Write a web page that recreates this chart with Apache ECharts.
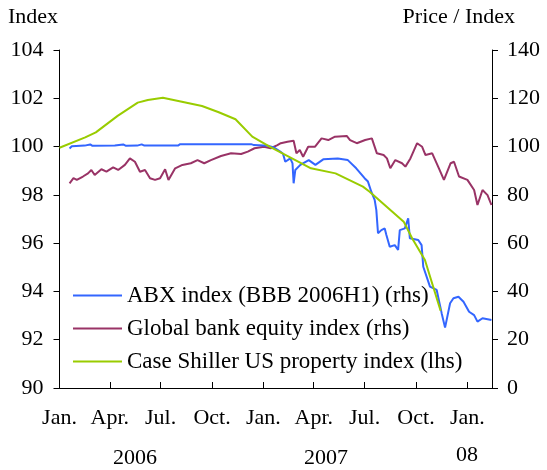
<!DOCTYPE html>
<html>
<head>
    <meta charset="utf-8">
    <title>ABX, bank equity and Case Shiller</title>
    <script src="https://cdn.jsdelivr.net/npm/echarts@6/dist/echarts.min.js"></script>
    <style>
        html, body { margin: 0; padding: 0; background: #fff; }
    </style>
</head>
<body>
<div id="main" style="width: 547px;height:470px;"></div>
<script type="text/javascript">
    // ABX index (BBB 2006H1), right axis
    var abxDates = ['2006-01-19', '2006-01-23', '2006-02-15', '2006-02-25', '2006-03-01', '2006-04-10',
        '2006-04-25', '2006-04-30', '2006-05-20', '2006-05-28', '2006-06-02', '2006-08-01', '2006-08-05',
        '2006-12-10', '2006-12-15', '2007-01-10', '2007-01-20', '2007-01-31', '2007-02-05', '2007-02-09',
        '2007-02-18', '2007-02-22', '2007-02-24', '2007-02-27', '2007-03-08', '2007-03-23', '2007-04-04',
        '2007-04-18', '2007-05-14', '2007-06-01', '2007-06-16', '2007-07-01', '2007-07-07', '2007-07-13',
        '2007-07-19', '2007-07-22', '2007-07-25', '2007-07-31', '2007-08-06', '2007-08-09', '2007-08-15',
        '2007-08-24', '2007-08-30', '2007-09-02', '2007-09-11', '2007-09-17', '2007-09-20', '2007-10-05',
        '2007-10-11', '2007-10-14', '2007-10-26', '2007-11-07', '2007-11-16', '2007-11-22', '2007-12-01',
        '2007-12-07', '2007-12-16', '2007-12-25', '2008-01-04', '2008-01-13', '2008-01-19', '2008-01-28',
        '2008-02-13'];
    var abxValues = [99.2, 100.1, 100.4, 100.9, 100.3, 100.4,
        100.9, 100.3, 100.4, 100.9, 100.4, 100.4, 101.0,
        101.0, 100.6, 100.3, 99.6, 97.9, 97.0, 93.7,
        95.1, 93.0, 84.8, 90.3, 92.4, 94.4, 92.4,
        94.7, 95.1, 94.4, 91.0, 86.9, 85.5, 81.3,
        77.9, 73.7, 64.1, 65.4, 66.1, 63.4, 58.5,
        59.2, 57.2, 65.4, 66.1, 70.3, 62.0, 61.3,
        59.2, 50.2, 42.0, 40.6, 30.9, 25.0, 35.1,
        37.2, 37.8, 35.7, 31.6, 30.2, 27.5, 28.9,
        28.2];

    // Global bank equity index, right axis
    var bankDates = ['2006-01-19', '2006-01-21', '2006-01-26', '2006-02-01', '2006-02-12', '2006-02-21',
        '2006-02-27', '2006-03-05', '2006-03-17', '2006-03-26', '2006-04-07', '2006-04-16', '2006-04-28',
        '2006-05-07', '2006-05-16', '2006-05-25', '2006-06-03', '2006-06-12', '2006-06-21', '2006-06-30',
        '2006-07-09', '2006-07-15', '2006-07-27', '2006-08-09', '2006-08-24', '2006-09-05', '2006-09-17',
        '2006-09-29', '2006-10-17', '2006-11-04', '2006-11-22', '2006-12-04', '2006-12-16', '2007-01-02',
        '2007-01-14', '2007-01-26', '2007-02-01', '2007-02-13', '2007-02-16', '2007-02-24', '2007-03-01',
        '2007-03-07', '2007-03-13', '2007-03-22', '2007-04-03', '2007-04-15', '2007-04-27', '2007-05-09',
        '2007-05-30', '2007-06-05', '2007-06-17', '2007-07-02', '2007-07-14', '2007-07-23', '2007-08-04',
        '2007-08-10', '2007-08-16', '2007-08-25', '2007-09-06', '2007-09-12', '2007-09-21', '2007-10-03',
        '2007-10-12', '2007-10-18', '2007-10-30', '2007-11-11', '2007-11-20', '2007-12-02', '2007-12-08',
        '2007-12-17', '2008-01-01', '2008-01-13', '2008-01-19', '2008-01-28', '2008-02-06', '2008-02-13'];
    var bankValues = [84.8, 84.1, 86.9, 86.2, 87.6, 88.9,
        90.3, 88.2, 90.6, 89.6, 91.4, 90.3, 92.4,
        95.1, 93.7, 89.6, 90.3, 86.9, 86.2, 86.9,
        90.6, 86.2, 91.0, 92.4, 93.1, 94.4, 93.1,
        94.4, 96.1, 97.2, 96.9, 97.9, 99.3, 99.9,
        99.3, 100.6, 101.4, 102.0, 102.7, 102.4, 97.2,
        98.6, 95.8, 99.9, 99.9, 103.4, 102.7, 104.1,
        104.4, 102.7, 101.4, 102.7, 103.4, 97.2, 96.5,
        95.1, 91.0, 94.4, 93.1, 91.7, 95.1, 101.4,
        99.9, 96.5, 97.2, 91.0, 86.2, 93.1, 93.7,
        87.6, 86.2, 82.0, 75.8, 82.0, 79.9, 75.8];

    // Case Shiller US property index, left axis
    var csDates = ['2006-01-01', '2006-02-16', '2006-03-07', '2006-04-15', '2006-05-21', '2006-06-08',
        '2006-07-05', '2006-08-08', '2006-09-13', '2006-10-13', '2006-11-12', '2006-12-12', '2007-01-12',
        '2007-03-05', '2007-03-27', '2007-05-10', '2007-06-28', '2007-07-10', '2007-09-09', '2007-09-24',
        '2007-10-17', '2007-11-14'];
    var csValues = [99.95, 100.38, 100.59, 101.27, 101.82, 101.93,
        102.02, 101.86, 101.68, 101.42, 101.13, 100.41, 100.0,
        99.37, 99.1, 98.89, 98.34, 98.13, 96.89, 96.2,
        95.3, 93.2];

    var quarterTicks = ['2006-01-01', '2006-04-01', '2006-07-01', '2006-10-01', '2007-01-01',
        '2007-04-01', '2007-07-01', '2007-10-01', '2008-01-01'];
    var monthNames = ['Jan.', 'Feb.', 'Mar.', 'Apr.', 'May', 'Jun.', 'Jul.', 'Aug.', 'Sep.', 'Oct.', 'Nov.', 'Dec.'];
    var yearLabels = ['2006', '2007', '08'];

    var legendNames = ['ABX index (BBB 2006H1) (rhs)', 'Global bank equity index (rhs)',
        'Case Shiller US property index (lhs)'];

    function toTime(d) {
        var p = d.split('-');
        return Date.UTC(+p[0], +p[1] - 1, +p[2]);
    }

    function pairs(dates, values) {
        return dates.map(function (d, i) { return [toTime(d), values[i]]; });
    }

    var font = 'Liberation Serif, Times New Roman, serif';
    var tickTimes = quarterTicks.map(toTime);

    var myChart = echarts.init(document.getElementById('main'));

    var option = {
        backgroundColor: '#fff',
        animation: false,
        textStyle: { fontFamily: font, color: '#000' },
        grid: { left: 59.5, right: 55, top: 50, bottom: 82 },
        legend: {
            orient: 'vertical',
            left: 68,
            top: 279,
            icon: 'rect',
            itemWidth: 49,
            itemHeight: 2,
            itemGap: 10,
            data: legendNames,
            textStyle: { fontFamily: font, fontSize: 23, color: '#000' }
        },
        xAxis: {
            type: 'value',
            min: toTime('2006-01-01'),
            max: toTime('2008-02-14'),
            axisLine: { lineStyle: { color: '#000', width: 1 } },
            axisTick: {
                inside: true,
                length: 6,
                lineStyle: { color: '#000' },
                customValues: tickTimes
            },
            axisLabel: {
                color: '#000',
                fontFamily: font,
                fontSize: 22,
                margin: 19,
                customValues: tickTimes,
                formatter: function (v) {
                    return monthNames[new Date(v).getUTCMonth()];
                }
            },
            splitLine: { show: false }
        },
        yAxis: [{
            type: 'value',
            min: 90,
            max: 104,
            interval: 2,
            position: 'left',
            axisLine: { show: true, lineStyle: { color: '#000', width: 1 } },
            axisTick: { show: true, length: 6, lineStyle: { color: '#000' } },
            axisLabel: { color: '#000', fontFamily: font, fontSize: 22, margin: 16 },
            splitLine: { show: false }
        }, {
            type: 'value',
            min: 0,
            max: 140,
            interval: 20,
            position: 'right',
            axisLine: { show: true, lineStyle: { color: '#000', width: 1 } },
            axisTick: { show: true, length: 6, lineStyle: { color: '#000' } },
            axisLabel: { color: '#000', fontFamily: font, fontSize: 22, margin: 15 },
            splitLine: { show: false }
        }],
        graphic: [
            { type: 'text', left: 8, top: 6, style: { text: 'Index', font: '22px ' + font, fill: '#000' } },
            { type: 'text', right: 32, top: 6, style: { text: 'Price / Index', font: '22px ' + font, fill: '#000' } },
            { type: 'text', x: 135, y: 458, style: { text: yearLabels[0], font: '22px ' + font, fill: '#000', align: 'center', verticalAlign: 'middle' } },
            { type: 'text', x: 326, y: 458, style: { text: yearLabels[1], font: '22px ' + font, fill: '#000', align: 'center', verticalAlign: 'middle' } },
            { type: 'text', x: 467, y: 455, style: { text: yearLabels[2], font: '22px ' + font, fill: '#000', align: 'center', verticalAlign: 'middle' } }
        ],
        series: [{
            name: legendNames[0],
            type: 'line',
            yAxisIndex: 1,
            symbol: 'none',
            color: '#3366ff',
            lineStyle: { width: 2, color: '#3366ff' },
            data: pairs(abxDates, abxValues),
            z: 3
        }, {
            name: legendNames[1],
            type: 'line',
            yAxisIndex: 1,
            symbol: 'none',
            color: '#993366',
            lineStyle: { width: 2, color: '#993366' },
            data: pairs(bankDates, bankValues),
            z: 2
        }, {
            name: legendNames[2],
            type: 'line',
            yAxisIndex: 0,
            symbol: 'none',
            color: '#99cc00',
            lineStyle: { width: 2, color: '#99cc00' },
            data: pairs(csDates, csValues),
            z: 4
        }]
    };

    myChart.setOption(option);
</script>
</body>
</html>
